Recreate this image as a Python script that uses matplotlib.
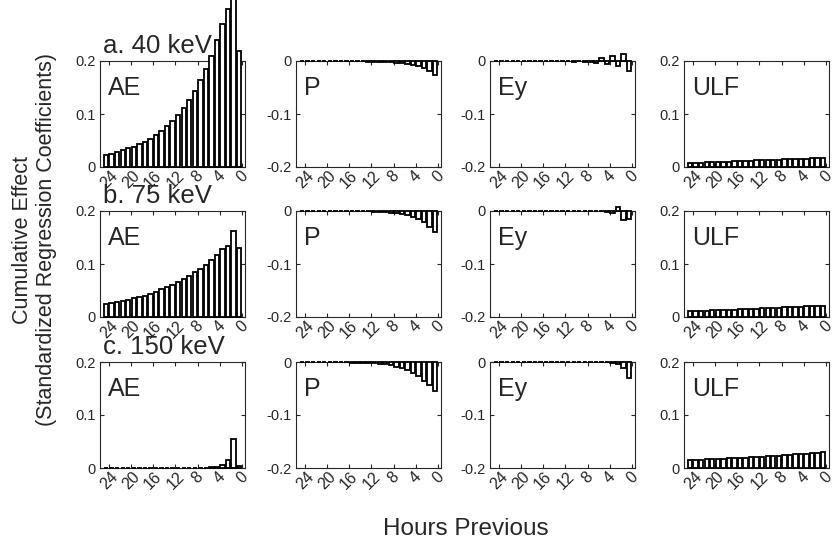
import matplotlib
matplotlib.use('Agg')
import matplotlib.pyplot as plt
import numpy as np

plt.rcParams['font.family'] = ['Liberation Sans', 'DejaVu Sans']

# lag bins, 24 h back to 0 h (bar centres)
lag = np.arange(24, -1, -1) + 0.5

ae_40 = [0.022, 0.025, 0.028, 0.032, 0.035, 0.038, 0.043, 0.047, 0.052, 0.060,
         0.068, 0.077, 0.087, 0.098, 0.112, 0.126, 0.144, 0.164, 0.185, 0.209,
         0.240, 0.270, 0.298, 0.320, 0.218]
p_40 = [-0.0001, -0.0001, -0.0001, -0.0002, -0.0002, -0.0003, -0.0003, -0.0004,
        -0.0005, -0.0006, -0.0007, -0.0009, -0.0011, -0.0013, -0.0016, -0.002,
        -0.0025, -0.0032, -0.004, -0.005, -0.007, -0.010, -0.014, -0.019, -0.026]
ey_40 = [0.0003, -0.0003, 0.0002, -0.0002, 0.0002, -0.0003, 0.0003, -0.0003,
         0.0002, -0.0004, 0.0003, -0.0005, 0.0004, -0.0006, -0.001, -0.0008,
         -0.0015, -0.002, -0.004, 0.005, -0.005, 0.009, -0.010, 0.014, -0.018]
ulf_40 = [0.0075, 0.0079, 0.0083, 0.0087, 0.0091, 0.0095, 0.0099, 0.0103, 0.0107,
          0.0111, 0.0115, 0.0119, 0.0123, 0.0127, 0.0131, 0.0135, 0.0139, 0.0143,
          0.0147, 0.0151, 0.0155, 0.0159, 0.0163, 0.0168, 0.0175]

ae_75 = [0.024, 0.026, 0.028, 0.030, 0.032, 0.035, 0.037, 0.040, 0.044, 0.048,
         0.052, 0.056, 0.060, 0.066, 0.071, 0.077, 0.084, 0.091, 0.099, 0.108,
         0.117, 0.129, 0.134, 0.162, 0.131]
p_75 = [-0.0001, -0.0001, -0.0001, -0.0001, -0.0001, -0.0002, -0.0002, -0.0002,
        -0.0003, -0.0004, -0.0005, -0.0007, -0.0009, -0.0012, -0.0016, -0.0022,
        -0.003, -0.004, -0.0055, -0.0076, -0.011, -0.015, -0.021, -0.030, -0.040]
ey_75 = [0.0002, -0.0002, 0.0002, -0.0002, 0.0002, -0.0002, 0.0002, -0.0002,
         0.0001, -0.0001, 0.0001, -0.0001, 0.0001, -0.0001, 0.0001, -0.0001,
         0.0001, -0.0002, 0.0002, -0.0005, -0.001, -0.003, 0.007, -0.017, -0.015]
ulf_75 = [0.0107, 0.0111, 0.0115, 0.0119, 0.0123, 0.0127, 0.0131, 0.0135, 0.0139,
          0.0144, 0.0148, 0.0152, 0.0157, 0.0161, 0.0166, 0.0170, 0.0175, 0.0180,
          0.0185, 0.0190, 0.0195, 0.0200, 0.0205, 0.0210, 0.0215]

ae_150 = [0.0, 0.0, 0.0, 0.0, 0.0, 0.0, 0.0, 0.0, 0.0, 0.0, 0.0, 0.0, 0.0,
          0.0005, 0.0005, 0.0005, 0.0005, 0.0005, 0.0005, 0.001, 0.002, 0.005,
          0.016, 0.054, 0.004]
p_150 = [-0.0002, -0.0003, -0.0003, -0.0004, -0.0004, -0.0005, -0.0006, -0.0007,
         -0.0008, -0.001, -0.0012, -0.0015, -0.0019, -0.0024, -0.003, -0.0045,
         -0.0065, -0.009, -0.012, -0.016, -0.021, -0.027, -0.035, -0.044, -0.055]
ey_150 = [0.0002, -0.0002, 0.0002, -0.0002, 0.0002, -0.0002, 0.0002, -0.0002,
          0.0001, -0.0001, 0.0001, -0.0001, 0.0001, -0.0001, 0.0001, -0.0001,
          -0.0002, -0.0002, -0.0003, -0.0004, -0.0006, -0.001, -0.003, -0.011, -0.030]
ulf_150 = [0.0146, 0.0151, 0.0156, 0.0161, 0.0166, 0.0171, 0.0176, 0.0181, 0.0187,
           0.0192, 0.0198, 0.0204, 0.0210, 0.0216, 0.0222, 0.0228, 0.0235, 0.0242,
           0.0249, 0.0256, 0.0264, 0.0272, 0.0280, 0.0290, 0.0305]

row_titles = ['a. 40 keV', 'b. 75 keV', 'c. 150 keV']
col_names = ['AE', 'P', 'Ey', 'ULF']
rows = [[ae_40, p_40, ey_40, ulf_40],
        [ae_75, p_75, ey_75, ulf_75],
        [ae_150, p_150, ey_150, ulf_150]]
xticks = [24, 20, 16, 12, 8, 4, 0]

W, H = 837, 539
fig = plt.figure(figsize=(W / 100, H / 100), dpi=100)

col_left = [100, 296, 490, 684]   # pixel positions of the axes
row_top = [61, 211, 362]
aw, ah = 145, 106
dark = '#262626'

for r in range(3):
    for c in range(4):
        ax = fig.add_axes([col_left[c] / W, 1 - (row_top[r] + ah) / H, aw / W, ah / H])
        ax.bar(lag, rows[r][c], width=0.8, color='white', edgecolor='black',
               linewidth=1.3, clip_on=False, zorder=3)
        ax.set_xlim(25.6, -0.55)
        ax.set_xticks(xticks)
        ax.set_xticklabels([str(t) for t in xticks], rotation=45, ha='center',
                           va='top', fontsize=11)
        if c in (1, 2):
            ax.set_ylim(-0.2, 0)
            ax.set_yticks([-0.2, -0.1, 0])
            ax.set_yticklabels(['-0.2', '-0.1', '0'])
        else:
            ax.set_ylim(0, 0.2)
            ax.set_yticks([0, 0.1, 0.2])
            ax.set_yticklabels(['0', '0.1', '0.2'])
        ax.tick_params(direction='in', top=True, right=True, length=3,
                       width=0.8, colors=dark, labelsize=10.5, pad=3)
        ax.tick_params(axis='x', labelsize=11.5, pad=1)
        for s in ax.spines.values():
            s.set_color(dark)
            s.set_linewidth(0.8)
        ax.text(0.055, 0.68, col_names[c], transform=ax.transAxes,
                fontsize=18, color=dark, va='baseline', ha='left')
        if c == 0:
            ax.text(0.02, 1.075, row_titles[r], transform=ax.transAxes,
                    fontsize=18.5, color=dark, va='baseline', ha='left', zorder=1)

fig.text(0.041, 0.555, 'Cumulative Effect\n(Standardized Regression Coefficients)',
         rotation=90, ha='center', va='center', fontsize=15.5, color=dark,
         linespacing=1.2)
fig.text(0.556, -0.002, 'Hours Previous', ha='center', va='bottom',
         fontsize=17.5, color=dark)

fig.savefig('out.png', dpi=100)
